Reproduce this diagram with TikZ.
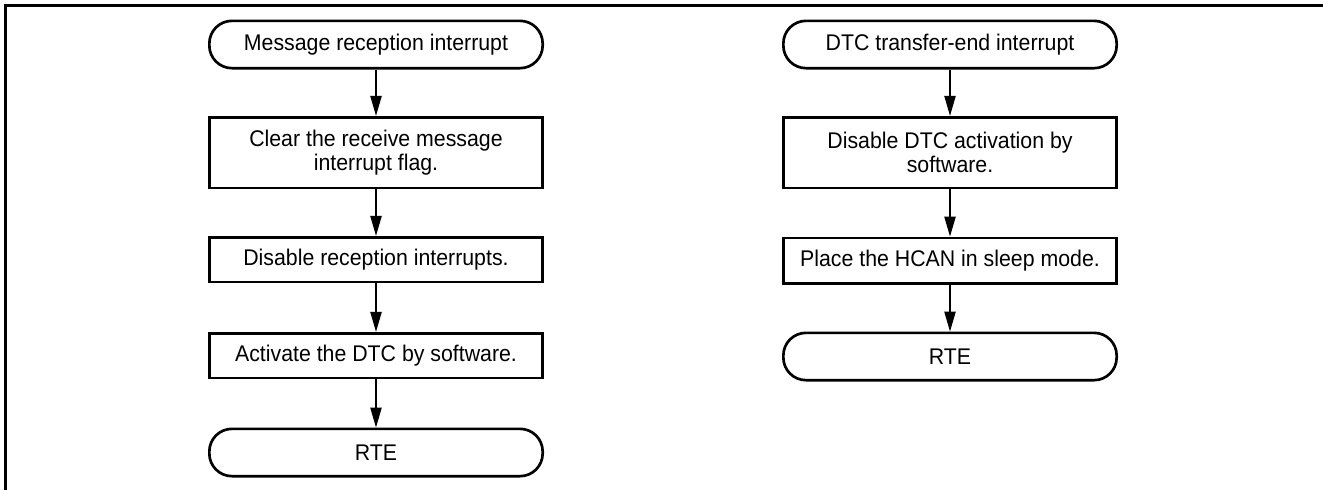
\documentclass[tikz,border=0pt]{standalone}
\usepackage{fontspec}
\setmainfont{Liberation Sans}[FakeStretch=0.94]
\usetikzlibrary{arrows.meta}
\tikzset{
  boxnode/.style={draw, line width=2pt, minimum width=250pt, inner sep=0pt, align=center,
    font=\fontsize{17}{17.5}\selectfont},
  termnode/.style={boxnode, rounded corners=17pt},
  flowarrow/.style={line width=1pt, -{Triangle[length=15pt,width=8.5pt]}},
  frameline/.style={line width=1.75pt}
}
\begin{document}
\begin{tikzpicture}[x=0.75pt,y=-0.75pt]
\useasboundingbox (0,0) rectangle (1323,490);
\coordinate (fa) at (5.5,490);
\coordinate (fb) at (5.5,5.5);
\coordinate (fc) at (1323,5.5);
\draw[frameline] (fa) -- (fb) -- (fc);
% left column
\node[termnode, minimum height=35.5pt] (l0) at (376,44.5) {Message reception interrupt};
\node[boxnode, minimum height=53pt] (l1) at (376,152.5) {Clear the receive message\\interrupt flag.};
\node[boxnode, minimum height=33.5pt] (l2) at (376,259.5) {Disable reception interrupts.};
\node[boxnode, minimum height=33.5pt] (l3) at (376,355.5) {Activate the DTC by software.};
\node[termnode, minimum height=35.5pt] (l4) at (376,452.5) {RTE};
\draw[flowarrow] (l0) -- (l1);
\draw[flowarrow] (l1) -- (l2);
\draw[flowarrow] (l2) -- (l3);
\draw[flowarrow] (l3) -- (l4);
% right column
\node[termnode, minimum height=35.5pt] (r0) at (950,44.5) {DTC transfer-end interrupt};
\node[boxnode, minimum height=53pt] (r1) at (950,152.5) {Disable DTC activation by\\software.};
\node[boxnode, minimum height=34pt] (r2) at (950,260.5) {Place the HCAN in sleep mode.};
\node[termnode, minimum height=35.5pt] (r3) at (950,356.5) {RTE};
\draw[flowarrow] (r0) -- (r1);
\draw[flowarrow] (r1) -- (r2);
\draw[flowarrow] (r2) -- (r3);
\end{tikzpicture}
\end{document}
